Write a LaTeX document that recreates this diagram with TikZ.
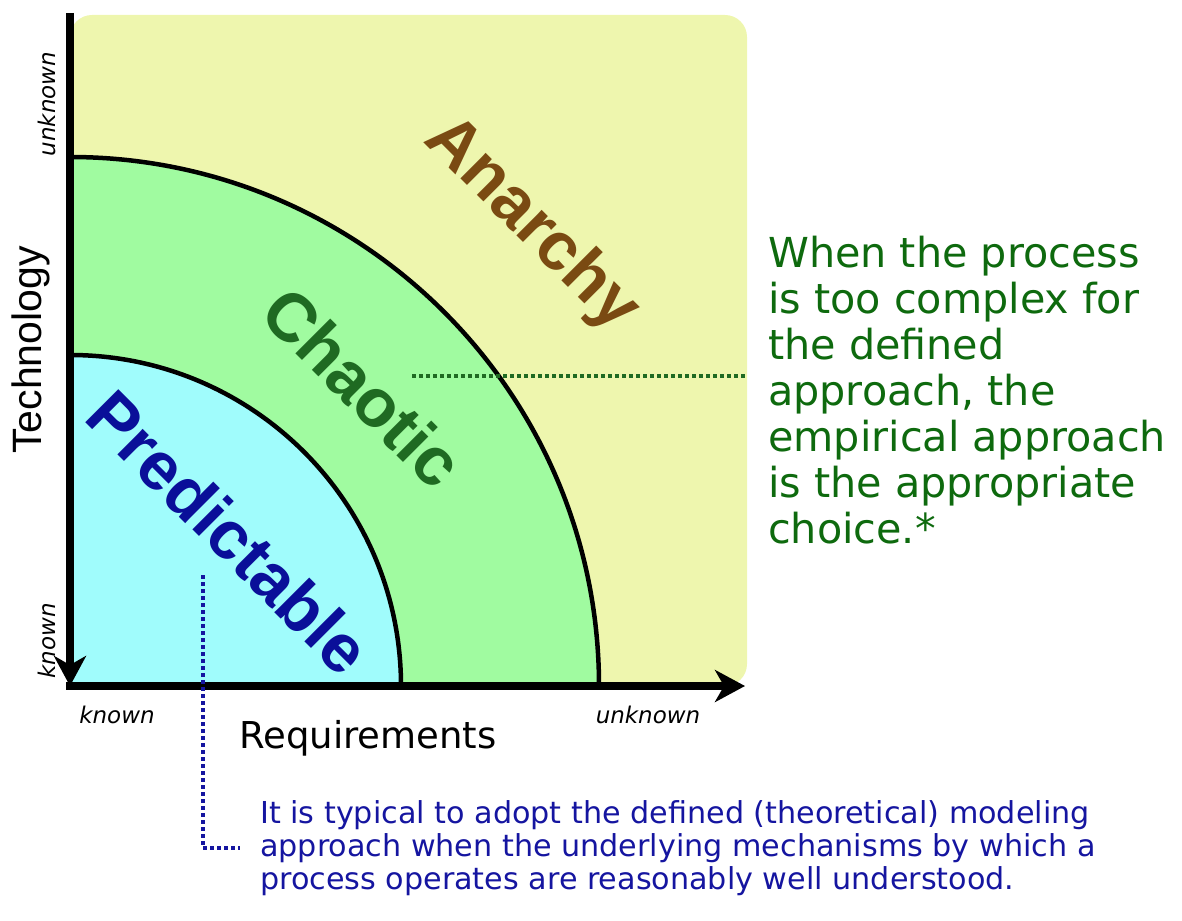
\documentclass[tikz,border=0pt]{standalone}
\usepackage{fontspec}
\setmainfont{DejaVu Sans}
\newfontfamily\headfont{Liberation Sans}
\usetikzlibrary{arrows.meta, positioning}
\definecolor{anarchyfill}{HTML}{EEF6AE}
\definecolor{chaosfill}{HTML}{A0FBA0}
\definecolor{predfill}{HTML}{A0FCFC}
\definecolor{anarchyink}{HTML}{7A4A12}
\definecolor{chaosink}{HTML}{1F6A22}
\definecolor{predink}{HTML}{0A0F99}
\definecolor{noteGreen}{HTML}{0E6A0E}
\definecolor{noteBlue}{HTML}{1515A0}

\begin{document}
\begin{tikzpicture}[
  x=1pt, y=-1pt,
  axis/.style={line width=8pt, draw=black, -{Stealth[length=30pt, width=32pt, inset=9pt]}},
  border/.style={draw=black, line width=4.5pt},
  zone/.style={font=\headfont\bfseries\fontsize{68}{76}\selectfont, rotate=-45, inner sep=0pt},
  tick/.style={font=\itshape\fontsize{23}{26}\selectfont, inner sep=0pt},
  note/.style={align=left, inner sep=0pt, anchor=north west},
  pointer/.style={line width=3.5pt, dash pattern=on 4pt off 3pt}
]
  \useasboundingbox (0,0) rectangle (1182,920);

  \coordinate (O) at (70,686);
  \coordinate (ytop) at (70,13);
  \coordinate (xend) at (745,686);
  \coordinate (field ne) at (747,15);

  % regions
  \fill[anarchyfill, rounded corners=22pt] (70,15) rectangle (field ne |- O);
  \fill[chaosfill] (O) -- ++(529,0) arc[start angle=0, end angle=-90, radius=529] -- cycle;
  \draw[border] (O) ++(529,0) arc[start angle=0, end angle=-90, radius=529];
  \fill[predfill] (O) -- ++(331,0) arc[start angle=0, end angle=-90, radius=331] -- cycle;
  \draw[border] (O) ++(331,0) arc[start angle=0, end angle=-90, radius=331];

  % axes
  \draw[axis] (ytop) -- (O);
  \draw[axis] ([xshift=-4pt]O) -- (xend);

  \node[tick, rotate=90] (tunk) at (47,104) {unknown};
  \node[tick, rotate=90] (tknown) at (47,641) {known};
  \node[tick] (rknown) at (117,715) {known};
  \node[tick] (runk) at (648,715) {unknown};
  \node[font=\fontsize{37}{42}\selectfont, inner sep=0pt] (req) at (368,738) {Requirements};
  \node[font=\headfont\fontsize{41}{46}\selectfont, rotate=90, inner sep=0pt] (tech) at (31,350) {Technology};

  \node[zone, text=anarchyink] (anarchy) at (531,225) {Anarchy};
  \node[zone, text=chaosink] (chaotic) at (363,387) {Chaotic};
  \node[zone, text=predink] (predictable) at (229,532) {Predictable};

  % notes
  \node[note, text=noteGreen, font=\fontsize{41.3}{46}\selectfont] (empirical) at (768,236)
    {When the process\\is too complex for\\the defined\\approach, the\\empirical approach\\is the appropriate\\choice.*};
  \node[note, text=noteBlue, font=\fontsize{30.2}{33}\selectfont] (typical) at (260,800)
    {It is typical to adopt the defined (theoretical) modeling\\approach when the underlying mechanisms by which a\\process operates are reasonably well understood.};

  \coordinate (chaos pin) at (412,376);
  \coordinate (pred pin) at (203,575);
  \draw[pointer, chaosink] (chaos pin) -- (chaos pin -| field ne);
  \draw[pointer, noteBlue, shorten >=20pt] (pred pin) |- (typical.west);
\end{tikzpicture}
\end{document}
